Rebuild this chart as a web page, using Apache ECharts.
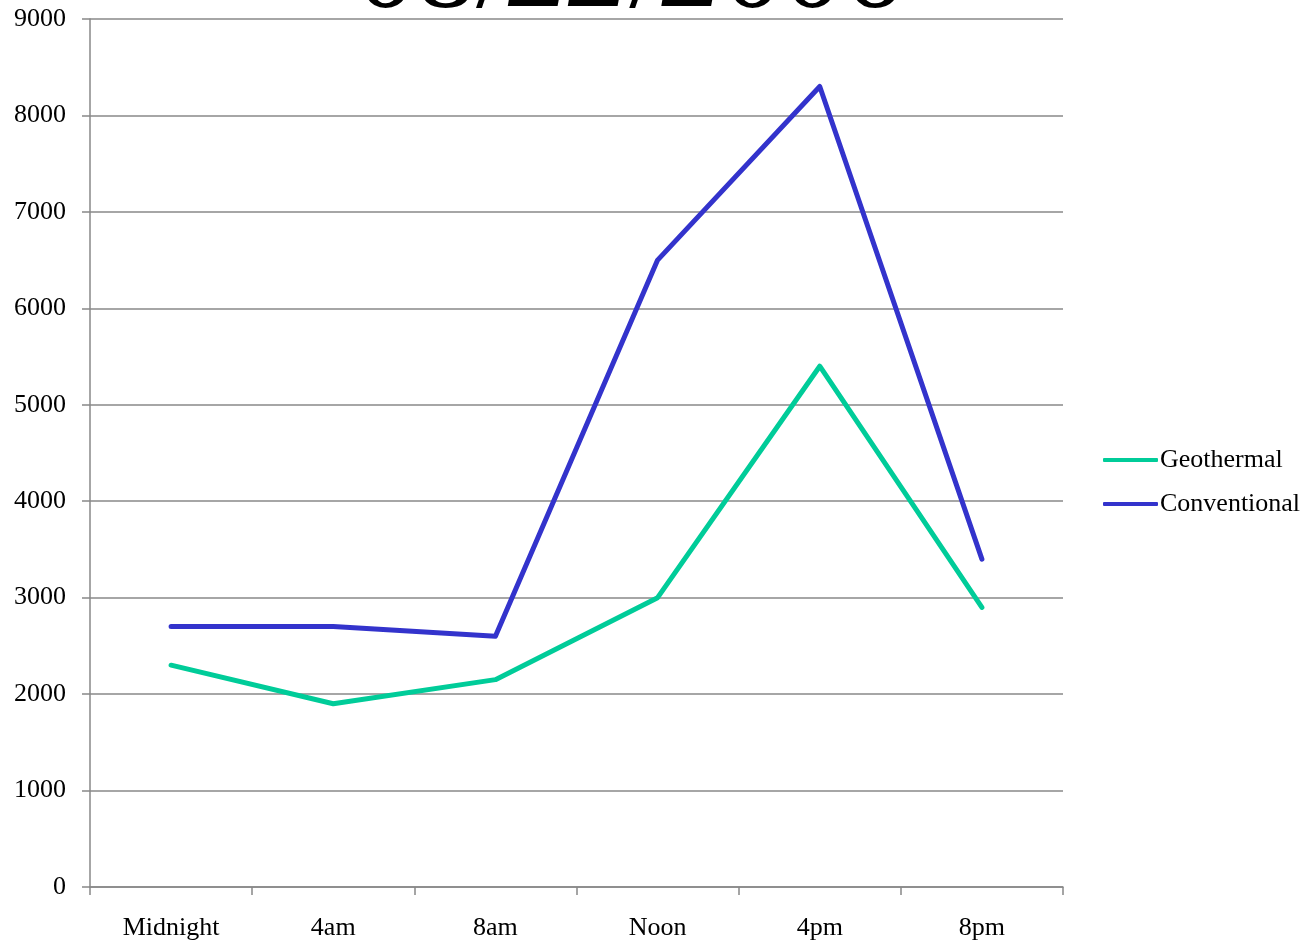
<!DOCTYPE html>
<html>
<head>
<meta charset="utf-8">
<script src="https://cdn.jsdelivr.net/npm/echarts@6/dist/echarts.min.js"></script>
<style>
  html, body { margin: 0; padding: 0; background: #ffffff; }
  #chart { width: 1310px; height: 943px; }
</style>
</head>
<body>
<div id="chart"></div>
<script>
// Hourly output, six 4-hour sample points
const categories = ['Midnight', '4am', '8am', 'Noon', '4pm', '8pm'];
const geothermal = [2300, 1900, 2150, 3000, 5400, 2900];
const conventional = [2700, 2700, 2600, 6500, 8300, 3400];
const yTicks = { min: 0, max: 9000, interval: 1000 };

const FONT = '"Liberation Serif", "DejaVu Serif", serif';
const GRID_COLOR = '#888888';

const chart = echarts.init(document.getElementById('chart'), null, { renderer: 'canvas' });

chart.setOption({
  backgroundColor: '#ffffff',
  animation: false,
  title: {
    text: '{r|08/}{b|22}{r|/}{b|2}{r|006}',
    left: 351,
    top: -90,
    textStyle: {
      fontWeight: 'normal',
      rich: {
        r: { fontFamily: FONT, fontSize: 120, fontWeight: 'normal', color: '#000000' },
        b: { fontFamily: FONT, fontSize: 120, fontWeight: 'bold', fontStyle: 'italic', color: '#000000' }
      }
    }
  },
  grid: { left: 90, right: 247, top: 19, bottom: 56, containLabel: false },
  legend: {
    orient: 'vertical',
    left: 1098,
    top: 442,
    itemWidth: 55,
    itemHeight: 4,
    itemGap: 18,
    icon: 'roundRect',
    textStyle: { fontFamily: FONT, fontSize: 26, color: '#000000', padding: [0, 0, 0, -3] },
    data: ['Geothermal', 'Conventional']
  },
  xAxis: {
    type: 'category',
    data: categories,
    boundaryGap: true,
    axisLine: { lineStyle: { color: GRID_COLOR, width: 1.5 } },
    axisTick: { show: true, length: 8, inside: false, lineStyle: { color: GRID_COLOR, width: 1.5 } },
    axisLabel: { fontFamily: FONT, fontSize: 26, color: '#000000', margin: 28 },
    splitLine: { show: false }
  },
  yAxis: {
    type: 'value',
    min: yTicks.min,
    max: yTicks.max,
    interval: yTicks.interval,
    axisLine: { show: true, lineStyle: { color: GRID_COLOR, width: 1.5 } },
    axisTick: { show: true, length: 8, lineStyle: { color: GRID_COLOR, width: 1.5 } },
    axisLabel: { fontFamily: FONT, fontSize: 26, color: '#000000', margin: 24, formatter: (v) => String(v) },
    splitLine: { show: true, lineStyle: { color: GRID_COLOR, width: 1.5 } }
  },
  series: [
    {
      name: 'Geothermal',
      type: 'line',
      data: geothermal,
      symbol: 'none',
      color: '#00cc99',
      lineStyle: { color: '#00cc99', width: 5, cap: 'round', join: 'round' }
    },
    {
      name: 'Conventional',
      type: 'line',
      data: conventional,
      symbol: 'none',
      color: '#3333cc',
      lineStyle: { color: '#3333cc', width: 5, cap: 'round', join: 'round' }
    }
  ]
});
</script>
</body>
</html>
